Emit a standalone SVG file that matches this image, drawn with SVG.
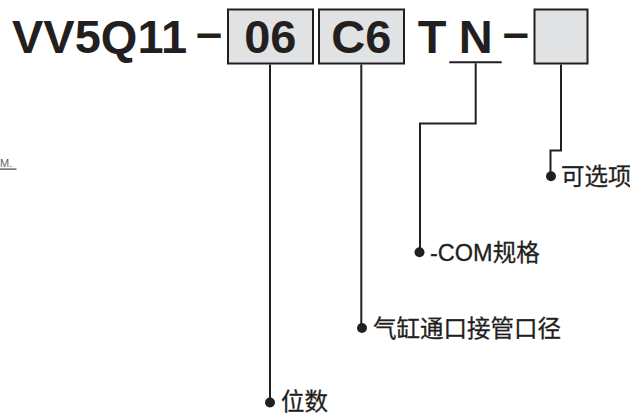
<svg xmlns="http://www.w3.org/2000/svg" width="630" height="413" viewBox="0 0 630 413">
<style>
.code{font-family:"Liberation Sans",Arial,sans-serif;font-weight:bold;font-size:47px;fill:#231f20}
.box{fill:#e1e2e4;stroke:#231f20;stroke-width:2}
.lbl{font-family:"Liberation Sans","Noto Sans CJK SC",sans-serif;font-size:23.5px;fill:#231f20;stroke:#231f20;stroke-width:0.3}
.ln{fill:none;stroke:#231f20;stroke-width:2}
.dot{fill:#231f20}
</style>
<rect width="630" height="413" fill="#ffffff"/>
<g id="fragment">
<text x="0" y="166.5" font-family="Liberation Sans,Arial,sans-serif" font-size="11" fill="#666666">M.</text>
<rect x="0" y="168.5" width="16.5" height="1.2" fill="#444444"/>
</g>
<g id="code">
<text class="code" x="12" y="53">VV5Q11</text>
<text class="code" x="209" y="47.5" text-anchor="middle" font-size="42">–</text>
<text class="code" x="515.7" y="47.5" text-anchor="middle" font-size="42">–</text>
</g>
<g id="box-06">
<rect class="box" x="228" y="9.5" width="85" height="54"/>
<text class="code" x="270.3" y="53" text-anchor="middle">06</text>
</g>
<g id="box-C6">
<rect class="box" x="319" y="9.5" width="85" height="54"/>
<text class="code" x="361.3" y="53" text-anchor="middle">C6</text>
</g>
<g id="T">
<text class="code" x="432" y="53" text-anchor="middle">T</text>
</g>
<g id="N">
<text class="code" x="475.7" y="53" text-anchor="middle">N</text>
<line class="ln" x1="449.3" y1="62.3" x2="501.7" y2="62.3"/>
</g>
<g id="box-option">
<rect class="box" x="534.5" y="9.5" width="53" height="54"/>
</g>
<g id="connectors">
<polyline class="ln" points="270,64.5 270,402"/>
<polyline class="ln" points="361.3,64.5 361.3,328"/>
<polyline class="ln" points="475.7,63.3 475.7,123.5 420,123.5 420,252"/>
<polyline class="ln" points="561,64.5 561,150.5 550.5,150.5 550.5,176"/>
<circle class="dot" cx="270" cy="402.5" r="5"/>
<circle class="dot" cx="362" cy="328" r="5"/>
<circle class="dot" cx="419.5" cy="252.3" r="5"/>
<circle class="dot" cx="551" cy="176.3" r="5"/>
</g>
<g id="label-option"><text class="lbl" x="561" y="185">可选项</text></g>
<g id="label-com"><text class="lbl" x="430" y="261">-COM规格</text></g>
<g id="label-port"><text class="lbl" x="373" y="337">气缸通口接管口径</text></g>
<g id="label-pos"><text class="lbl" x="281" y="409.5">位数</text></g>
</svg>
